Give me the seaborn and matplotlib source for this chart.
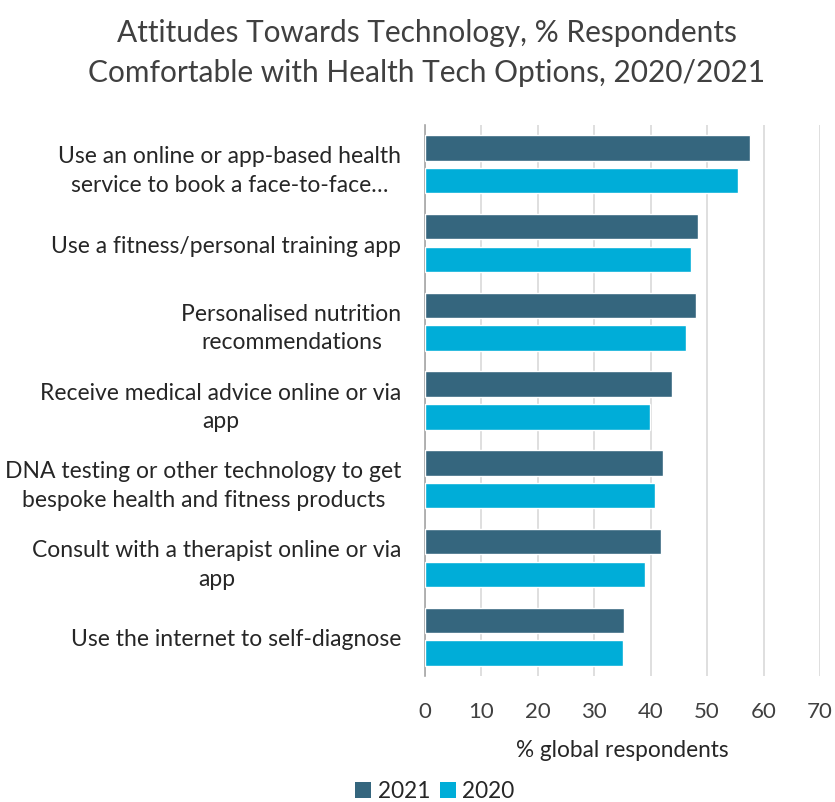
import matplotlib
matplotlib.use("Agg")
import matplotlib.pyplot as plt
import seaborn as sns
import pandas as pd
from matplotlib.patches import Patch

categories = [
    "Use an online or app-based health\nservice to book a face-to-face\u2026",
    "Use a fitness/personal training app",
    "Personalised nutrition\nrecommendations",
    "Receive medical advice online or via\napp",
    "DNA testing or other technology to get\nbespoke health and fitness products",
    "Consult with a therapist online or via\napp",
    "Use the internet to self-diagnose",
]
values_2021 = [57.6, 48.3, 48.0, 43.8, 42.1, 41.9, 35.3]
values_2020 = [55.4, 47.1, 46.3, 39.9, 40.8, 38.9, 35.0]
years = ["2021", "2020"]
colors = {"2021": "#35667E", "2020": "#00ADD8"}
x_ticks = [0, 10, 20, 30, 40, 50, 60, 70]

df = pd.DataFrame({
    "category": categories * 2,
    "year": ["2021"] * len(categories) + ["2020"] * len(categories),
    "value": values_2021 + values_2020,
})

sns.set_theme(style="white")
plt.rcParams["font.family"] = ["Lato", "DejaVu Sans"]

fig = plt.figure(figsize=(8.35, 8.03), dpi=100)
ax = fig.add_axes([425 / 835, 1 - 677 / 803, 395 / 835, (677 - 126) / 803])

sns.barplot(data=df, x="value", y="category", hue="year", hue_order=years,
            palette=colors, order=categories, orient="h", width=0.83, gap=0.22,
            saturation=1, ax=ax, legend=False, zorder=3)

ax.set_xlim(0, 70)
ax.set_ylim(len(categories) - 0.5, -0.5)
ax.set_xticks(x_ticks)
ax.set_xticklabels([str(t) for t in x_ticks], fontsize=16, color="#404040")
ax.xaxis.grid(True, color="#D9D9D9", linewidth=1.2, zorder=0)
ax.set_axisbelow(True)
for s in ["top", "right", "bottom"]:
    ax.spines[s].set_visible(False)
ax.spines["left"].set_color("#A6A6A6")
ax.spines["left"].set_linewidth(1.2)

ax.tick_params(axis="x", length=0, pad=18)
ax.tick_params(axis="y", which="major", length=0, pad=17, labelsize=16.5, labelcolor="#262626")
ax.set_yticks([i - 0.5 for i in range(len(categories) + 1)], minor=True)
ax.tick_params(axis="y", which="minor", length=5, width=1.2, color="#A6A6A6", direction="out")
for t in ax.get_yticklabels():
    t.set_multialignment("center")
    t.set_linespacing(1.45)

ax.set_ylabel("")
ax.set_xlabel("% global respondents", fontsize=16.3, color="#262626", labelpad=13)

fig.text(427 / 835, 1 - 33 / 803, "Attitudes Towards Technology, % Respondents",
         ha="center", va="center", fontsize=21.5, color="#404040")
fig.text(427 / 835, 1 - 73 / 803, "Comfortable with Health Tech Options, 2020/2021",
         ha="center", va="center", fontsize=21.5, color="#404040")

handles = [Patch(facecolor=colors[y], edgecolor="none", label=y) for y in years]
fig.legend(handles=handles, loc="center", bbox_to_anchor=(435 / 835, 1 - 792 / 803),
           ncol=2, frameon=False, fontsize=16.3, handlelength=0.7, handleheight=0.7,
           handletextpad=0.3, columnspacing=0.4, labelcolor="#262626")

fig.savefig("out.png", dpi=100)
